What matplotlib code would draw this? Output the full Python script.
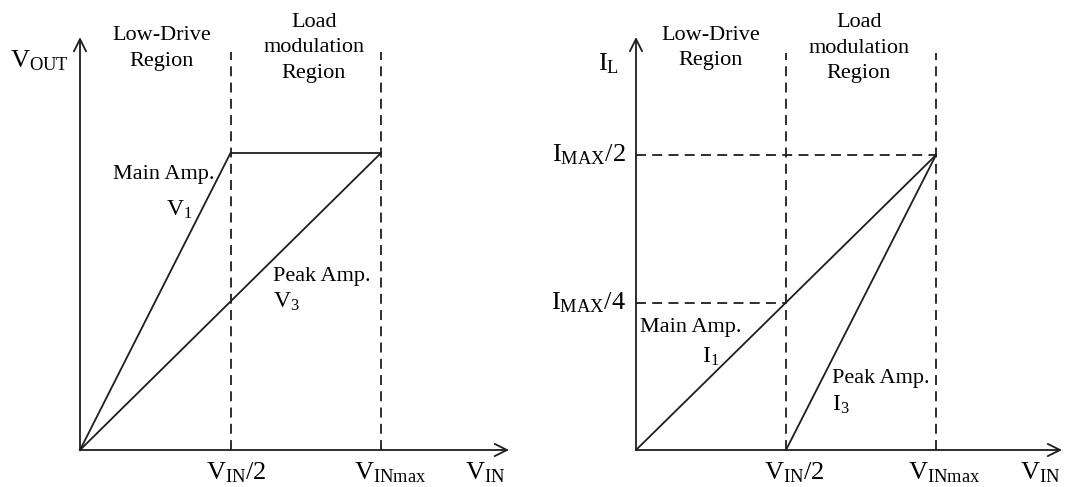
import matplotlib.pyplot as plt

plt.rcParams['font.family'] = ['Liberation Serif', 'DejaVu Serif']
plt.rcParams['mathtext.fontset'] = 'custom'
plt.rcParams['mathtext.rm'] = 'Liberation Serif'
plt.rcParams['mathtext.it'] = 'Liberation Serif'

# drive level: 0 -> V_IN/2 -> V_INmax
vin = [0.0, 0.5, 1.0]
# output voltages (normalised to the plateau)
v1 = [0.0, 1.0, 1.0]      # main amp
v3 = [0.0, 0.5, 1.0]      # peak amp
# load currents (in units of I_MAX)
i1 = [0.0, 0.25, 0.5]     # main amp
i3_x = [0.5, 1.0]
i3 = [0.0, 0.5]           # peak amp

c = '#1e1e1e'
lw = 1.3
dash = (0, (5.5, 3.5))
W, H = 1080, 487

fig = plt.figure(figsize=(10.8, 4.87), dpi=100)

def make_axes(x0, x1, y0, y1):
    # axes box placed in pixel coordinates of the figure
    ax = fig.add_axes([x0 / W, (H - y0) / H, (x1 - x0) / W, (y0 - y1) / H])
    ax.set_axis_off()
    return ax

def arrow(ax, x0, y0, x1, y1):
    ax.annotate('', xy=(x1, y1), xytext=(x0, y0), annotation_clip=False,
                arrowprops=dict(arrowstyle='->', lw=lw, color=c,
                                mutation_scale=22, shrinkA=0, shrinkB=0))

# ---- left panel: output voltage ----
axl = make_axes(80, 381, 450, 153)
axl.set_xlim(0, 1)
axl.set_ylim(0, 1)
arrow(axl, 0, 0, 1.425, 0)
arrow(axl, 0, 0, 0, 1.39)
for xv in vin[1:]:
    axl.plot([xv, xv], [0, 1.34], ls=dash, color=c, lw=lw, clip_on=False)
axl.plot(vin, v1, color=c, lw=lw, clip_on=False)
axl.plot(vin, v3, color=c, lw=lw, clip_on=False)

axl.text(-0.135, 1.31, r'$\mathrm{V}_{\mathrm{OUT}}$', fontsize=19, ha='center', va='center')
axl.text(0.27, 1.352, 'Low-Drive\nRegion', fontsize=16, ha='center', va='center', linespacing=1.45)
axl.text(0.777, 1.354, 'Load\nmodulation\nRegion', fontsize=16, ha='center', va='center', linespacing=1.45)
axl.text(0.11, 0.927, 'Main Amp.', fontsize=16, ha='left', va='center')
axl.text(0.285, 0.81, r'$\mathrm{V}_1$', fontsize=17, ha='left', va='center')
axl.text(0.64, 0.585, 'Peak Amp.', fontsize=16, ha='left', va='center')
axl.text(0.64, 0.50, r'$\mathrm{V}_3$', fontsize=17, ha='left', va='center')
axl.text(0.52, -0.078, r'$\mathrm{V}_{\mathrm{IN}}/2$', fontsize=19, ha='center', va='center')
axl.text(1.03, -0.078, r'$\mathrm{V}_{\mathrm{INmax}}$', fontsize=19, ha='center', va='center')
axl.text(1.345, -0.078, r'$\mathrm{V}_{\mathrm{IN}}$', fontsize=19, ha='center', va='center')

# ---- right panel: load current ----
axr = make_axes(636, 936, 450, 155)
axr.set_xlim(0, 1)
axr.set_ylim(0, 0.5)
arrow(axr, 0, 0, 1.42, 0)
arrow(axr, 0, 0, 0, 0.70)
for xv in vin[1:]:
    axr.plot([xv, xv], [0, 0.673], ls=dash, color=c, lw=lw, clip_on=False)
axr.plot([0, vin[2]], [i1[2], i1[2]], ls=dash, color=c, lw=lw, clip_on=False)
axr.plot([0, vin[1]], [i1[1], i1[1]], ls=dash, color=c, lw=lw, clip_on=False)
axr.plot(vin, i1, color=c, lw=lw, clip_on=False)
axr.plot(i3_x, i3, color=c, lw=lw, clip_on=False)

axr.text(-0.09, 0.655, r'$\mathrm{I}_{\mathrm{L}}$', fontsize=19, ha='center', va='center')
axr.text(0.25, 0.681, 'Low-Drive\nRegion', fontsize=16, ha='center', va='center', linespacing=1.45)
axr.text(0.743, 0.681, 'Load\nmodulation\nRegion', fontsize=16, ha='center', va='center', linespacing=1.45)
axr.text(-0.035, 0.5, r'$\mathrm{I}_{\mathrm{MAX}}/2$', fontsize=19, ha='right', va='center')
axr.text(-0.035, 0.25, r'$\mathrm{I}_{\mathrm{MAX}}/4$', fontsize=19, ha='right', va='center')
axr.text(0.013, 0.207, 'Main Amp.', fontsize=16, ha='left', va='center')
axr.text(0.22, 0.158, r'$\mathrm{I}_1$', fontsize=17, ha='left', va='center')
axr.text(0.653, 0.122, 'Peak Amp.', fontsize=16, ha='left', va='center')
axr.text(0.653, 0.076, r'$\mathrm{I}_3$', fontsize=17, ha='left', va='center')
axr.text(0.527, -0.039, r'$\mathrm{V}_{\mathrm{IN}}/2$', fontsize=19, ha='center', va='center')
axr.text(1.027, -0.039, r'$\mathrm{V}_{\mathrm{INmax}}$', fontsize=19, ha='center', va='center')
axr.text(1.347, -0.039, r'$\mathrm{V}_{\mathrm{IN}}$', fontsize=19, ha='center', va='center')

fig.savefig('out.png', dpi=100, facecolor='white')
